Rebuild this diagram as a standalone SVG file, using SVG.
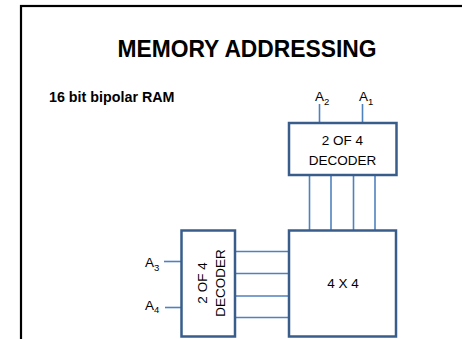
<svg xmlns="http://www.w3.org/2000/svg" width="462" height="339" viewBox="0 0 462 339">
<style>
  text { font-family: "Liberation Sans", Arial, sans-serif; fill: #000; }
  .title { font-size: 23px; font-weight: bold; }
  .sub { font-size: 14.3px; font-weight: bold; }
  .lbl { font-size: 13.5px; }
  .box { fill: #fff; stroke: #385D8A; stroke-width: 2.5; }
  .wire { stroke: #4F81BD; stroke-width: 1.6; fill: none; }
</style>
<rect width="462" height="339" fill="#fff"/>
<rect x="21" y="6" width="460" height="360" fill="none" stroke="#000" stroke-width="2.2"/>
<text class="title" x="247" y="57" text-anchor="middle" textLength="259" lengthAdjust="spacingAndGlyphs">MEMORY ADDRESSING</text>
<text class="sub" x="49" y="102">16 bit bipolar RAM</text>
<g id="connectors">
  <line class="wire" x1="319.5" y1="104" x2="319.5" y2="123"/>
  <line class="wire" x1="362.5" y1="104" x2="362.5" y2="123"/>
  <line class="wire" x1="309.5" y1="175" x2="309.5" y2="230"/>
  <line class="wire" x1="331" y1="175" x2="331" y2="230"/>
  <line class="wire" x1="353.5" y1="175" x2="353.5" y2="230"/>
  <line class="wire" x1="375" y1="175" x2="375" y2="230"/>
  <line class="wire" x1="235" y1="251.5" x2="289" y2="251.5"/>
  <line class="wire" x1="235" y1="273.5" x2="289" y2="273.5"/>
  <line class="wire" x1="235" y1="296" x2="289" y2="296"/>
  <line class="wire" x1="235" y1="317.5" x2="289" y2="317.5"/>
  <line class="wire" x1="164" y1="261.5" x2="182" y2="261.5"/>
  <line class="wire" x1="165" y1="307.5" x2="182" y2="307.5"/>
</g>
<g id="labels">
  <text class="lbl" x="315" y="101">A<tspan font-size="9.5px" dy="3.5">2</tspan></text>
  <text class="lbl" x="359" y="101">A<tspan font-size="9.5px" dy="3.5">1</tspan></text>
  <text class="lbl" x="145" y="267">A<tspan font-size="9.5px" dy="3.5">3</tspan></text>
  <text class="lbl" x="145" y="309.5">A<tspan font-size="9.5px" dy="3.5">4</tspan></text>
</g>
<g id="decoder-top">
  <rect class="box" x="289" y="123" width="107.5" height="52"/>
  <text class="lbl" x="342.5" y="144.5" text-anchor="middle">2 OF 4</text>
  <text class="lbl" x="342.5" y="165" text-anchor="middle">DECODER</text>
</g>
<g id="decoder-left">
  <rect class="box" x="181.5" y="230.5" width="53.5" height="106"/>
  <text class="lbl" transform="translate(207,283) rotate(-90)" text-anchor="middle">2 OF 4</text>
  <text class="lbl" transform="translate(225,283) rotate(-90)" text-anchor="middle">DECODER</text>
</g>
<g id="ram">
  <rect class="box" x="289" y="230.5" width="107" height="106"/>
  <text class="lbl" x="343" y="288" text-anchor="middle">4 X 4</text>
</g>
</svg>
